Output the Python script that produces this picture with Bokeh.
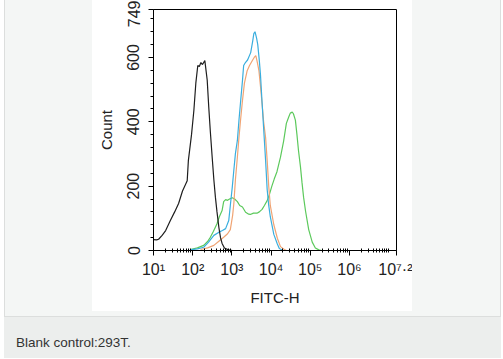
import numpy as np
from bokeh.plotting import figure
from bokeh.models import FixedTicker, CustomJSTickFormatter, Spacer, Div
from bokeh.layouts import row, column
from bokeh.embed import file_html
from bokeh.resources import INLINE

# ---- data (x given as log10 of FITC-H, y as count) ----
black_log = [1.00, 1.08, 1.13, 1.22, 1.31, 1.43, 1.54, 1.64, 1.74, 1.86, 1.89, 1.97, 2.03, 2.08,
             2.13, 2.17, 2.21, 2.25, 2.31, 2.37, 2.41, 2.45, 2.50, 2.54, 2.58, 2.62, 2.67, 2.71,
             2.75, 2.81, 2.91, 3.02]
black_cnt = [34, 33, 35, 47, 62, 93, 120, 146, 185, 217, 280, 360, 435, 520,
             575, 572, 584, 578, 590, 530, 445, 370, 285, 220, 165, 120, 70, 40,
             22, 8, 2, 0]

blue_log = [1.94, 2.12, 2.28, 2.40, 2.54, 2.67, 2.76, 2.84, 2.92, 2.96, 3.01, 3.05, 3.09, 3.14,
            3.18, 3.22, 3.27, 3.30, 3.35, 3.40, 3.48, 3.53, 3.56, 3.59, 3.63, 3.66, 3.70, 3.73,
            3.77, 3.81, 3.86, 3.90, 3.94, 3.98, 4.07, 4.16, 4.21, 4.29]
blue_cnt = [2, 5, 10, 25, 47, 57, 62, 68, 93, 140, 197, 250, 301, 342,
            404, 460, 528, 575, 585, 592, 615, 650, 674, 680, 660, 640, 590, 545,
            460, 380, 280, 190, 140, 105, 50, 20, 6, 1]

orange_log = [2.20, 2.38, 2.54, 2.66, 2.79, 2.89, 2.96, 3.02, 3.05, 3.09, 3.14, 3.18, 3.22, 3.27,
              3.32, 3.39, 3.45, 3.53, 3.57, 3.61, 3.64, 3.69, 3.73, 3.77, 3.81, 3.86, 3.90, 3.94,
              3.98, 4.07, 4.16, 4.24, 4.33, 4.39]
orange_cnt = [3, 8, 16, 28, 41, 52, 65, 110, 146, 220, 290, 350, 404, 466,
              520, 559, 575, 592, 600, 606, 590, 559, 510, 457, 400, 351, 280, 200,
              140, 80, 38, 12, 4, 0]

green_log = [1.94, 2.12, 2.28, 2.38, 2.45, 2.53, 2.62, 2.68, 2.75, 2.79, 2.84, 2.89, 2.94, 3.01,
             3.07, 3.14, 3.20, 3.27, 3.35, 3.43, 3.47, 3.55, 3.64, 3.70, 3.77, 3.83, 3.90, 3.96,
             4.02, 4.08, 4.15, 4.24, 4.32, 4.39, 4.45, 4.49, 4.54, 4.57, 4.62, 4.66, 4.70, 4.75,
             4.79, 4.83, 4.88, 4.96, 5.05, 5.13, 5.22, 5.29]
green_cnt = [3, 8, 16, 28, 41, 60, 83, 105, 124, 152, 158, 156, 160, 164,
             160, 152, 140, 135, 119, 113, 112, 116, 116, 120, 128, 140, 155, 175,
             200, 222, 245, 290, 340, 395, 415, 427, 430, 425, 405, 360, 310, 260,
             210, 165, 122, 65, 26, 8, 2, 0]

x_ticks = [1e1, 1e2, 1e3, 1e4, 1e5, 1e6, 10 ** 7.2]
x_labels = ["10\u00b9", "10\u00b2", "10\u00b3", "10\u2074", "10\u2075", "10\u2076", "10\u2077\u00b7\u00b2"]
y_ticks = [0, 200, 400, 600, 749]
x_title = "FITC-H"
y_title = "Count"
caption = "Blank control:293T."

FONT = "Liberation Sans"
PANEL = "#f4f6f5"
EDGE = "#dcdedd"
CAPBG = "#eceeed"

p = figure(width=320, height=311, x_axis_type="log",
           x_range=(10, 10 ** 7.2), y_range=(0, 749),
           output_backend="svg", toolbar_location=None,
           min_border_left=61, min_border_right=16, min_border_top=9, min_border_bottom=61)
p.background_fill_color = "white"
p.border_fill_color = "white"
p.outline_line_color = "black"
p.outline_line_width = 1
p.xgrid.visible = False
p.ygrid.visible = False

series = [
    (green_log, green_cnt, "#5cc95c"),
    (orange_log, orange_cnt, "#f0a474"),
    (blue_log, blue_cnt, "#3aaede"),
    (black_log, black_cnt, "#1e1e1e"),
]
for lg, cnt, col in series:
    p.line(10 ** np.array(lg), cnt, line_color=col, line_width=1.2)

x_minor = [k * 10 ** d for d in range(1, 7) for k in range(2, 10)] + [1e7]
p.xaxis.ticker = FixedTicker(ticks=x_ticks, minor_ticks=x_minor)
p.xaxis.formatter = CustomJSTickFormatter(
    args=dict(t=x_ticks, l=x_labels),
    code="""
    for (let i = 0; i < t.length; i++) {
        if (Math.abs(Math.log10(t[i]) - Math.log10(tick)) < 1e-6) { return l[i]; }
    }
    return '';
    """)
y_minor = [v for v in range(40, 749, 40) if v % 200 != 0]
p.yaxis.ticker = FixedTicker(ticks=y_ticks, minor_ticks=y_minor)
p.yaxis.major_label_orientation = "vertical"

p.xaxis.axis_label = x_title
p.yaxis.axis_label = y_title

for ax in (p.xaxis, p.yaxis):
    ax.axis_line_color = "black"
    ax.major_tick_line_color = "black"
    ax.minor_tick_line_color = "black"
    ax.major_tick_in = 0
    ax.major_tick_out = 5
    ax.major_label_text_font = FONT
    ax.major_label_text_font_size = "16px"
    ax.major_label_text_color = "#222222"
    ax.axis_label_text_font = FONT
    ax.axis_label_text_font_size = "15px"
    ax.axis_label_text_font_style = "normal"
    ax.axis_label_text_color = "#222222"

p.xaxis.minor_tick_in = 2
p.xaxis.minor_tick_out = 2
p.xaxis.major_label_standoff = 5
p.xaxis.axis_label_standoff = 8
p.yaxis.minor_tick_in = 0
p.yaxis.minor_tick_out = 3
p.yaxis.major_label_standoff = 9
p.yaxis.axis_label_standoff = 10


def sp(w, h, color):
    return Spacer(width=w, height=h, margin=0, styles={"background-color": color})


top = row(sp(4, 311, "white"), sp(1, 311, EDGE), sp(87, 311, PANEL), p,
          sp(88, 311, PANEL), sp(1, 311, EDGE))
gap = row(sp(4, 5, "white"), sp(1, 5, EDGE), sp(495, 5, PANEL), sp(1, 5, EDGE))
sep = row(sp(4, 1, "white"), sp(497, 1, EDGE))
cap = Div(width=497, height=41, margin=0, styles={"background-color": CAPBG},
          text='<div style="padding:18px 0 0 12px;font-family:\'Liberation Sans\',Arial,sans-serif;'
               'font-size:13.5px;line-height:15px;color:#333333;">' + caption + '</div>')
capline = row(sp(4, 41, "white"), cap)
layout = column(top, gap, sep, capline)

open("out.html", "w").write(file_html(layout, INLINE))
